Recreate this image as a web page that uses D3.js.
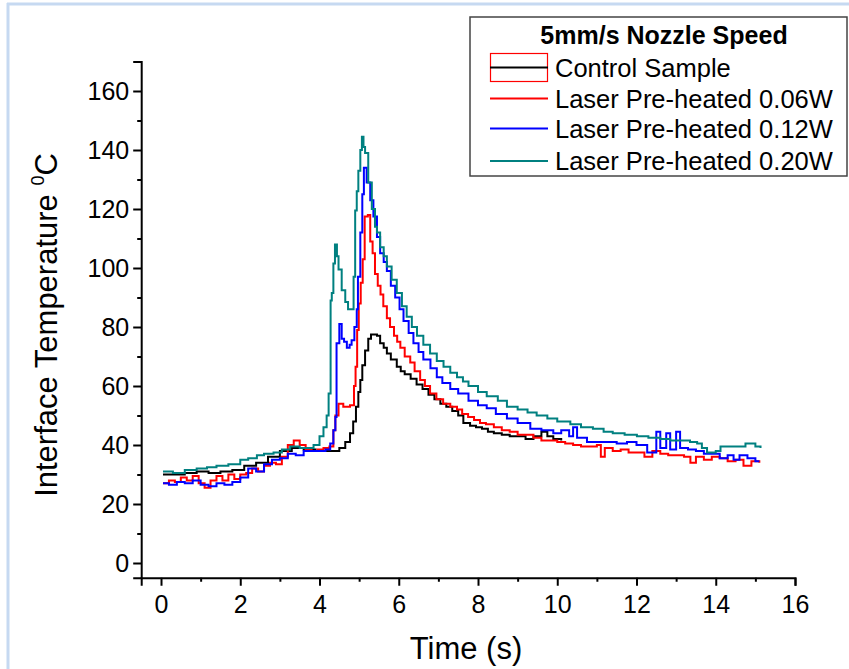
<!DOCTYPE html>
<html>
<head>
<meta charset="utf-8">
<script src="https://cdn.jsdelivr.net/npm/d3@7/dist/d3.min.js"></script>
<style>
  html, body { margin: 0; padding: 0; background: #fff; }
  svg { display: block; }
  text { font-family: "Liberation Sans", Arial, sans-serif; }
</style>
</head>
<body>
<svg id="chart" width="849" height="669"></svg>
<script>
// ---------------- DATA ----------------
const legendTitle = "5mm/s Nozzle Speed";
const seriesNames = ["Control Sample", "Laser Pre-heated 0.06W", "Laser Pre-heated 0.12W", "Laser Pre-heated 0.20W"];
const seriesColors = ["#000000", "#ff0000", "#0000ff", "#008080"];

const xTicks = [0, 2, 4, 6, 8, 10, 12, 14, 16];
const yTicks = [0, 20, 40, 60, 80, 100, 120, 140, 160];
const xTitle = "Time (s)";
const yTitle = "Interface Temperature ";

// Control Sample
const controlTime = [0.05, 0.3, 0.6, 0.9, 1.2, 1.5, 1.8, 2.1, 2.4, 2.7, 3.0, 3.3, 3.6, 3.9, 4.15, 4.35, 4.5, 4.65, 4.77, 4.85, 4.92, 4.98, 5.03, 5.08, 5.15, 5.23, 5.3, 5.45, 5.53, 5.62, 5.7, 5.8, 5.95, 6.05, 6.15, 6.3, 6.45, 6.6, 6.75, 6.9, 7.05, 7.2, 7.35, 7.5, 7.63, 7.8, 7.95, 8.1, 8.25, 8.4, 8.6, 8.8, 9.0, 9.2, 9.4, 9.6, 9.75, 9.9, 10.1];
const controlTemp = [30, 30, 30.5, 31, 30.5, 31, 31.5, 33, 34, 36, 38, 39, 38.5, 38, 38, 38, 39, 41, 44, 48, 53, 58, 62, 67, 72, 76, 77.5, 77, 74.5, 73, 71, 69, 66.5, 65, 64, 62.5, 60.5, 59, 57, 55.5, 54, 53, 51.5, 50, 47.5, 46.5, 46, 45.5, 44.5, 44, 43.5, 43, 43, 42, 43, 44.5, 43, 42, 41.5];

// Laser Pre-heated 0.06W
const w006Time = [0.05, 0.2, 0.35, 0.5, 0.65, 0.8, 0.95, 1.1, 1.25, 1.4, 1.55, 1.7, 1.85, 2.0, 2.15, 2.3, 2.45, 2.6, 2.75, 2.9, 3.05, 3.2, 3.35, 3.5, 3.65, 3.8, 3.95, 4.1, 4.25, 4.35, 4.4, 4.48, 4.6, 4.77, 4.87, 4.91, 4.95, 4.99, 5.04, 5.09, 5.14, 5.22, 5.28, 5.34, 5.4, 5.47, 5.54, 5.61, 5.7, 5.78, 5.88, 5.96, 6.04, 6.15, 6.29, 6.4, 6.54, 6.66, 6.79, 6.95, 7.12, 7.3, 7.47, 7.6, 7.75, 7.9, 8.05, 8.2, 8.4, 8.6, 8.8, 9.0, 9.2, 9.4, 9.6, 9.8, 10.0, 10.2, 10.4, 10.6, 10.8, 11.0, 11.1, 11.2, 11.4, 11.6, 11.8, 12.0, 12.2, 12.4, 12.6, 12.8, 13.0, 13.2, 13.36, 13.5, 13.7, 13.9, 14.1, 14.3, 14.5, 14.7, 14.9, 15.1];
const w006Temp = [27, 28, 27.5, 29, 28, 29.5, 27, 25.5, 28, 29.5, 28, 30, 28.5, 30, 30.5, 32, 31, 33, 34, 33.5, 36, 40, 41.5, 40, 38.5, 38, 38.5, 39, 39.5, 45, 50, 54, 53, 53.5, 60, 66.5, 79, 88, 95, 103, 117.5, 118, 109, 105, 98, 94, 91, 87, 83, 80, 77, 75, 73, 70, 68, 65, 62, 60, 57.5, 55.5, 54, 53, 52, 50.5, 49.5, 48.5, 47.5, 47, 46, 45, 44.5, 43.5, 43.5, 42.5, 41.5, 41.5, 41, 40.5, 40, 39.5, 39.5, 40, 36, 39, 38, 38.5, 37.5, 37.5, 36, 38, 37, 36.5, 36.5, 36, 34, 36, 35, 36, 35.5, 34.5, 35, 33, 34.5, 34];

// Laser Pre-heated 0.12W
const w012Time = [0.05, 0.2, 0.4, 0.6, 0.8, 1.0, 1.2, 1.4, 1.6, 1.8, 2.0, 2.2, 2.4, 2.6, 2.8, 3.0, 3.2, 3.4, 3.6, 3.8, 4.0, 4.15, 4.27, 4.35, 4.4, 4.43, 4.5, 4.56, 4.62, 4.69, 4.76, 4.81, 4.88, 4.94, 4.97, 5.03, 5.08, 5.12, 5.19, 5.28, 5.36, 5.45, 5.53, 5.62, 5.7, 5.8, 5.91, 6.02, 6.12, 6.25, 6.37, 6.5, 6.62, 6.8, 6.96, 7.1, 7.3, 7.5, 7.76, 8.0, 8.22, 8.45, 8.73, 9.0, 9.32, 9.6, 9.9, 10.1, 10.3, 10.4, 10.5, 10.75, 11.0, 11.26, 11.5, 11.76, 12.0, 12.27, 12.5, 12.6, 12.75, 12.85, 13.0, 13.1, 13.3, 13.5, 13.7, 13.9, 14.1, 14.3, 14.45, 14.6, 14.8, 15.0, 15.1];
const w012Temp = [27, 26.5, 27.5, 27, 28, 26.5, 26, 27, 26.5, 27.5, 29, 32, 31, 33.5, 35, 35.5, 37, 36.5, 38, 38, 38, 38.5, 40.5, 45, 49.5, 74.5, 81, 76, 75, 73, 74, 75.5, 80, 86, 97, 112, 125, 134, 129, 123, 117.5, 110.5, 105, 102, 99, 94, 90, 86, 82, 78, 74.5, 71.5, 69, 66, 63, 61, 59, 57.5, 55, 53.5, 52.5, 50.5, 49, 47.5, 45.5, 45, 44, 45, 43, 46, 42.5, 41, 41, 41, 40.5, 41, 40, 37.5, 44.5, 39, 44, 38.5, 44.5, 39, 38.5, 38, 37, 37, 35.5, 36.5, 35, 36.5, 35.5, 34.5, 34.5];

// Laser Pre-heated 0.20W
const w020Time = [0.05, 0.3, 0.6, 0.9, 1.16, 1.4, 1.7, 2.0, 2.2, 2.42, 2.6, 2.84, 3.05, 3.26, 3.5, 3.68, 3.85, 4.0, 4.1, 4.18, 4.23, 4.28, 4.31, 4.35, 4.39, 4.44, 4.48, 4.56, 4.65, 4.72, 4.82, 4.86, 4.9, 4.94, 4.98, 5.03, 5.07, 5.11, 5.15, 5.23, 5.32, 5.4, 5.45, 5.53, 5.62, 5.7, 5.82, 5.95, 6.08, 6.2, 6.33, 6.46, 6.62, 6.79, 6.96, 7.13, 7.3, 7.47, 7.62, 7.76, 8.0, 8.22, 8.5, 8.73, 9.0, 9.25, 9.48, 9.75, 10.0, 10.33, 10.6, 10.9, 11.17, 11.4, 11.7, 12.01, 12.3, 12.6, 12.85, 13.1, 13.35, 13.53, 13.65, 13.78, 14.0, 14.12, 14.4, 14.6, 14.75, 14.87, 15.0, 15.13];
const w020Temp = [31, 30.5, 31.5, 32, 32.5, 33, 33.5, 35, 35.5, 36.5, 37, 37.5, 38.5, 39.5, 39, 39, 40, 43, 46, 50, 57.5, 89, 91.5, 101.5, 108, 104, 99.5, 92.5, 88.5, 86, 86, 97, 119.5, 126, 133, 140, 144.5, 141, 139, 129, 120, 114, 112, 107, 104, 100.5, 96, 91.5, 87, 83.5, 80, 77, 74, 71, 68.5, 66.5, 64.5, 63, 61.5, 60, 58, 56.5, 55, 53, 52, 51, 50, 49, 48, 47, 46, 45.5, 44.5, 44, 43.5, 43, 42.5, 42, 41.5, 41.5, 41, 40.5, 39, 37.5, 38, 39.5, 39.5, 39.5, 40.5, 40.5, 39.5, 39];

const seriesTimes = [controlTime, w006Time, w012Time, w020Time];
const seriesTemps = [controlTemp, w006Temp, w012Temp, w020Temp];

// ---------------- CHART ----------------
const svg = d3.select("#chart");
const FONT = "'Liberation Sans', Arial, sans-serif";

// light blue frame
svg.append("line").attr("x1", 8).attr("x2", 8).attr("y1", 3).attr("y2", 669)
  .attr("stroke", "#c6d9f1").attr("stroke-width", 3);
svg.append("line").attr("x1", 7).attr("x2", 849).attr("y1", 4).attr("y2", 4)
  .attr("stroke", "#c6d9f1").attr("stroke-width", 3);

const x = d3.scaleLinear().domain([-0.5, 16]).range([141.2, 795]);
const y = d3.scaleLinear().domain([-5, 170]).range([577.75, 61.5]);

const data = seriesTimes.map((ts, i) => ts.map((t, j) => [t, seriesTemps[i][j]]));

const line = d3.line().x(d => x(d[0])).y(d => y(d[1])).curve(d3.curveStepAfter);

svg.append("g").selectAll("path").data(data).join("path")
  .attr("d", line)
  .attr("fill", "none")
  .attr("stroke", (d, i) => seriesColors[i])
  .attr("stroke-width", 2)
  .attr("stroke-linejoin", "miter");

// Axes
const xMinor = d3.range(1, 16, 2);
const yMinor = d3.range(10, 160, 20);

const xAxisG = svg.append("g").attr("transform", `translate(0,${y(-5)})`);
xAxisG.call(d3.axisBottom(x).tickValues(xTicks).tickFormat(d3.format("d")).tickSize(8).tickPadding(9));
xAxisG.append("g").call(d3.axisBottom(x).tickValues(xMinor).tickFormat("").tickSize(4))
  .select(".domain").remove();

const yAxisG = svg.append("g").attr("transform", `translate(${x(-0.5)},0)`);
yAxisG.call(d3.axisLeft(y).tickValues(yTicks).tickFormat(d3.format("d")).tickSize(8).tickPadding(4));
yAxisG.append("g").call(d3.axisLeft(y).tickValues(yMinor).tickFormat("").tickSize(4))
  .select(".domain").remove();

[xAxisG, yAxisG].forEach(g => {
  g.selectAll(".domain").attr("stroke", "#000").attr("stroke-width", 2);
  g.selectAll(".tick line").attr("stroke", "#000").attr("stroke-width", 2);
  g.selectAll(".tick text").attr("fill", "#000")
    .style("font-family", FONT).style("font-size", "25px");
});

// Axis titles
svg.append("text").attr("x", 466).attr("y", 659).attr("text-anchor", "middle")
  .style("font-size", "31px").attr("fill", "#000").text(xTitle);

const yt = svg.append("text")
  .attr("transform", "translate(57,325) rotate(-90)")
  .attr("text-anchor", "middle").style("font-size", "31px").attr("fill", "#000");
yt.append("tspan").text(yTitle);
yt.append("tspan").attr("dy", -13).style("font-size", "18px").text("0");
yt.append("tspan").attr("dy", 13).text("C");

// Legend
const lg = svg.append("g");
lg.append("rect").attr("x", 470).attr("y", 17).attr("width", 377).attr("height", 159)
  .attr("fill", "#fff").attr("stroke", "#444").attr("stroke-width", 1.5);
lg.append("text").attr("x", 664).attr("y", 44).attr("text-anchor", "middle")
  .style("font-size", "25px").style("font-weight", "bold").attr("fill", "#000").text(legendTitle);
const rowY = [67.5, 98.5, 128.5, 161];
lg.append("rect").attr("x", 490.5).attr("y", 53.5).attr("width", 57).attr("height", 28)
  .attr("fill", "none").attr("stroke", "#ff0000").attr("stroke-width", 1.2);
seriesNames.forEach((name, i) => {
  lg.append("line").attr("x1", 490).attr("x2", 548).attr("y1", rowY[i]).attr("y2", rowY[i])
    .attr("stroke", seriesColors[i]).attr("stroke-width", 2);
  lg.append("text").attr("x", 555).attr("y", rowY[i] + 9)
    .style("font-size", "25.5px").attr("fill", "#000").text(name);
});
</script>
</body>
</html>
